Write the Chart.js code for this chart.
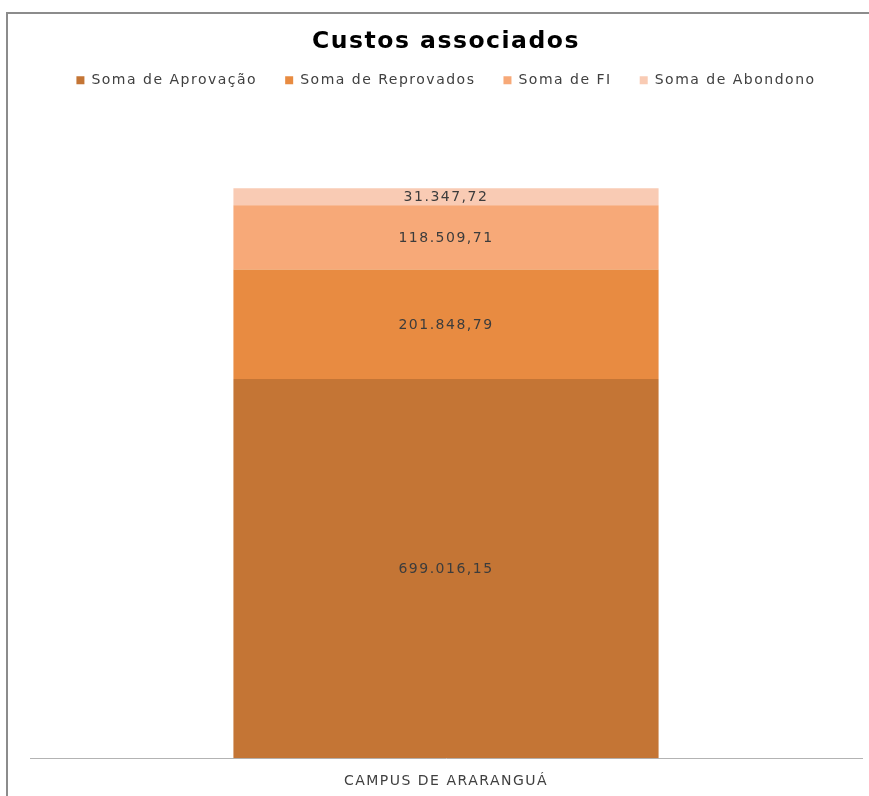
<!DOCTYPE html>
<html>
<head>
<meta charset="utf-8">
<script src="https://cdn.jsdelivr.net/npm/chart.js@4/dist/chart.umd.min.js"></script>
<style>
  html,body{margin:0;padding:0;background:#fff;overflow:hidden}
  #wrap{position:absolute;left:0;top:0;width:869px;height:796px}
</style>
</head>
<body>
<div id="wrap"><canvas id="chart" width="869" height="796"></canvas></div>
<script>
// Custos associados — one campus, four cost series stacked in a single bar
const CATEGORIES = ['CAMPUS DE ARARANGUÁ'];
const SERIES_NAMES = ['Soma de Aprovação', 'Soma de Reprovados', 'Soma de FI', 'Soma de Abondono'];
const APROVACAO = [699016.15];
const REPROVADOS = [201848.79];
const FI = [118509.71];
const ABONDONO = [31347.72];
const COLORS = ['#c47535', '#e88b41', '#f7a978', '#f9cbb4'];
const Y_MAX = 1200000;

const FONT = 'DejaVu Sans';
const SPACING = '1.5px';   // reference text is drawn wide

// pt-BR number: 699.016,15
function fmtBR(v){
  const [i,d] = v.toFixed(2).split('.');
  return i.replace(/\B(?=(\d{3})+(?!\d))/g,'.') + ',' + d;
}

// --- plugins ---------------------------------------------------------------
const wideText = {
  id:'wideText',
  beforeLayout(chart){ chart.ctx.letterSpacing = SPACING; },
  beforeDraw(chart){
    const ctx = chart.ctx;
    ctx.letterSpacing = SPACING;
    // chart-area frame: only left and top edges are inside the picture
    ctx.save();
    ctx.strokeStyle = '#8c8c8c'; ctx.lineWidth = 2;
    ctx.beginPath();
    ctx.moveTo(7, chart.height + 5); ctx.lineTo(7, 13); ctx.lineTo(chart.width + 5, 13);
    ctx.stroke();
    ctx.restore();
  },
};
const legendGap = {   // empty band between legend and plot top
  id:'legendGap',
  beforeInit(chart){
    const fit = chart.legend.fit;
    chart.legend.fit = function(){ fit.call(this); this.height += 10; };
  },
};
const barLabels = {
  id:'barLabels',
  afterDatasetsDraw(chart){
    const ctx = chart.ctx;
    ctx.save();
    ctx.letterSpacing = SPACING;
    ctx.font = `14px "${FONT}"`;
    ctx.fillStyle = '#3c3c3c';
    ctx.textAlign = 'center';
    ctx.textBaseline = 'middle';
    chart.data.datasets.forEach((ds,i)=>{
      chart.getDatasetMeta(i).data.forEach((bar,j)=>{
        const {x,y,base} = bar.getProps(['x','y','base'],true);
        ctx.fillText(fmtBR(ds.data[j]), x, (y+base)/2 + 1);
      });
    });
    ctx.restore();
  },
};

// --- chart -----------------------------------------------------------------
const datasets = [APROVACAO, REPROVADOS, FI, ABONDONO].map((data,i)=>({
  label:SERIES_NAMES[i], data, backgroundColor:COLORS[i],
  borderWidth:0, barPercentage:0.511, categoryPercentage:1,
}));

new Chart(document.getElementById('chart'), {
  type:'bar',
  data:{labels:CATEGORIES, datasets},
  options:{
    responsive:false, animation:false,
    layout:{padding:{left:30, right:7, top:0, bottom:-9}},
    plugins:{
      title:{display:true, text:'Custos associados', color:'#000',
        font:{family:FONT, size:23.5, weight:'bold'}, padding:{top:28, bottom:-11}},
      legend:{position:'top', labels:{boxWidth:8, boxHeight:8, padding:28,
        color:'#404040', font:{family:FONT, size:14}}},
      tooltip:{enabled:false},
    },
    scales:{
      x:{stacked:true, grid:{display:false, drawTicks:false},
        border:{display:true, color:'#b3b3b3', width:1},
        ticks:{color:'#404040', padding:15, font:{family:FONT, size:14}}},
      y:{stacked:true, display:false, min:0, max:Y_MAX},
    },
  },
  plugins:[wideText, legendGap, barLabels],
});
</script>
</body>
</html>
